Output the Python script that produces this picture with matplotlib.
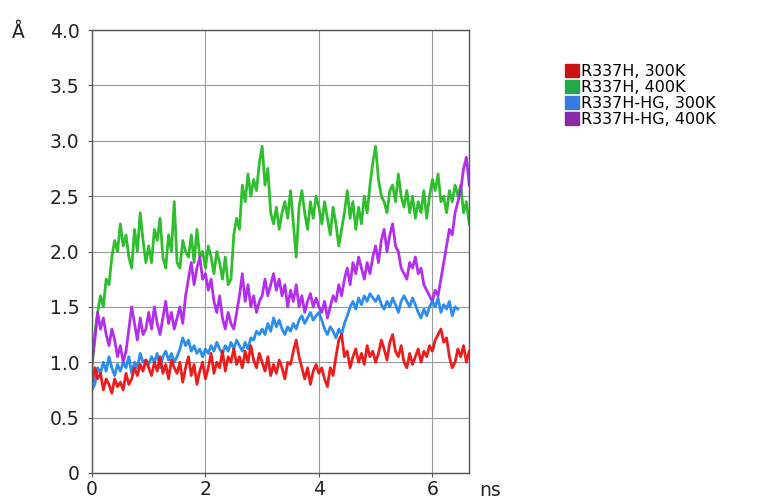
import numpy as np
import matplotlib
matplotlib.use("Agg")
import matplotlib.pyplot as plt
from matplotlib.patches import Patch

# RMSD traces, one value every 0.05 ns
step_ns = 0.05

r337h_300k = [
    0.8, 0.95, 0.85, 0.9, 0.75, 0.85, 0.8, 0.72, 0.85, 0.78,
    0.82, 0.75, 0.9, 0.8, 0.85, 0.95, 0.88, 0.98, 0.92, 1.02,
    0.95, 0.88, 1.0, 0.92, 1.05, 0.9, 0.98, 0.85, 1.02, 0.95,
    0.9, 1.0, 0.82, 0.95, 1.05, 0.88, 0.98, 0.8, 0.92, 1.0,
    0.85, 0.95, 1.08, 0.9, 1.0, 0.95, 1.1, 0.92, 1.05, 1.0,
    1.12, 0.98, 1.05, 0.95, 1.1, 1.0, 1.15, 1.02, 0.95, 1.08,
    1.0, 0.92, 1.05, 0.88, 0.98, 0.9, 1.02, 0.95, 0.85, 1.0,
    0.98, 1.1, 1.2, 1.05, 0.95, 0.85, 0.95, 0.8, 0.92, 0.98,
    0.9, 0.95, 0.85, 0.78, 0.95, 0.88, 1.05, 1.2, 1.25, 1.05,
    1.1, 0.95, 1.05, 1.12, 1.0, 1.08, 0.98, 1.15, 1.05, 1.1,
    1.0, 1.08, 1.2, 1.12, 1.02, 1.18, 1.25, 1.1, 1.05, 1.15,
    1.0, 0.95, 1.08, 0.98, 1.05, 1.12, 1.0, 1.1, 1.05, 1.15,
    1.1, 1.2, 1.25, 1.3, 1.18, 1.22, 1.05, 0.95, 1.0, 1.12,
    1.05, 1.15, 1.0, 1.1,
]

r337h_400k = [
    0.95, 1.25, 1.45, 1.6, 1.5, 1.75, 1.7, 1.95, 2.1, 2.0,
    2.25, 2.05, 2.15, 1.95, 1.85, 2.2, 2.0, 2.35, 2.1, 1.9,
    2.05, 1.9, 2.2, 2.1, 2.3, 1.95, 1.85, 2.15, 2.0, 2.45,
    1.9, 1.85, 2.1, 2.0, 1.95, 2.15, 1.9, 2.2, 1.95, 2.0,
    1.85, 2.05, 1.95, 1.8, 2.0, 1.9, 1.75, 1.95, 1.7, 1.75,
    2.15, 2.3, 2.2, 2.6, 2.45, 2.7, 2.5, 2.65, 2.55, 2.8,
    2.95, 2.6, 2.75, 2.35, 2.25, 2.4, 2.2, 2.35, 2.45, 2.3,
    2.55, 2.25, 1.95, 2.4, 2.55, 2.35, 2.2, 2.45, 2.3, 2.5,
    2.4, 2.25, 2.45, 2.3, 2.15, 2.4, 2.25, 2.05, 2.2, 2.35,
    2.55, 2.3, 2.45, 2.2, 2.4, 2.25, 2.5, 2.35, 2.6, 2.8,
    2.95, 2.65, 2.5, 2.45, 2.35, 2.55, 2.6, 2.45, 2.7, 2.5,
    2.4, 2.55, 2.35, 2.5, 2.3, 2.45, 2.35, 2.55, 2.3, 2.5,
    2.65, 2.55, 2.7, 2.45, 2.5, 2.35, 2.55, 2.45, 2.6, 2.5,
    2.6, 2.35, 2.45, 2.25,
]

r337h_hg_300k = [
    0.75, 0.8, 0.95, 0.9, 1.0, 0.92, 1.05, 0.95, 0.88, 0.98,
    0.92, 1.0, 0.95, 1.05, 0.9, 1.0, 0.95, 1.08, 1.0, 1.02,
    0.98, 1.05, 1.0, 1.08, 0.95, 1.05, 1.1, 1.02, 1.08, 1.0,
    1.05, 1.12, 1.22, 1.15, 1.2, 1.1, 1.15, 1.08, 1.12, 1.05,
    1.12, 1.08, 1.15, 1.1, 1.18, 1.12, 1.08, 1.15, 1.1, 1.18,
    1.12, 1.2, 1.15, 1.1, 1.18, 1.12, 1.22, 1.2, 1.28, 1.25,
    1.3, 1.25, 1.35, 1.28, 1.4, 1.32, 1.38, 1.3, 1.25, 1.32,
    1.28, 1.35, 1.3, 1.38, 1.42, 1.35, 1.4, 1.45, 1.38, 1.42,
    1.45, 1.38, 1.3, 1.25, 1.32, 1.28, 1.22, 1.3, 1.25, 1.35,
    1.42, 1.5, 1.55, 1.48, 1.58, 1.52, 1.6, 1.55, 1.62, 1.58,
    1.55, 1.6, 1.52, 1.48, 1.55, 1.5, 1.58, 1.52, 1.45, 1.55,
    1.6, 1.55, 1.5, 1.58, 1.52, 1.45, 1.4, 1.48, 1.42, 1.5,
    1.55, 1.5, 1.58, 1.45, 1.52, 1.48, 1.55, 1.42, 1.5, 1.48,
]

r337h_hg_400k = [
    1.0, 1.2, 1.45, 1.3, 1.4, 1.25, 1.15, 1.3, 1.2, 1.05,
    1.15, 1.0, 1.1, 1.3, 1.5, 1.35, 1.2, 1.4, 1.25, 1.3,
    1.45, 1.3, 1.5, 1.35, 1.25, 1.4, 1.55, 1.35, 1.45, 1.3,
    1.4, 1.5, 1.35, 1.6, 1.75, 1.9, 1.7, 1.85, 1.95, 1.75,
    1.8, 1.65, 1.75, 1.55, 1.45, 1.6, 1.4, 1.3, 1.45, 1.35,
    1.3, 1.45, 1.6, 1.8, 1.55, 1.7, 1.5, 1.6, 1.45, 1.55,
    1.6, 1.75, 1.6, 1.7, 1.8, 1.65, 1.75, 1.6, 1.7, 1.5,
    1.65, 1.55, 1.7, 1.5, 1.6, 1.45, 1.55, 1.62, 1.5, 1.58,
    1.5, 1.45, 1.55, 1.4, 1.5, 1.6, 1.55, 1.7, 1.6, 1.75,
    1.85, 1.7, 1.9, 1.8, 1.95, 1.85, 1.75, 1.9, 1.8, 1.95,
    2.05, 1.9, 2.1, 2.2, 2.0, 2.15, 2.25, 2.05, 2.0, 1.85,
    1.8, 1.75, 1.9, 1.85, 1.95, 1.8, 1.85, 1.7, 1.65, 1.6,
    1.55, 1.65, 1.6, 1.75, 1.9, 2.05, 2.2, 2.15, 2.35, 2.45,
    2.55, 2.75, 2.85, 2.6,
]

labels = ["R337H, 300K", "R337H, 400K", "R337H-HG, 300K", "R337H-HG, 400K"]
line_colors = ["#ee1111", "#22bb22", "#1f88ee", "#b022ee"]
legend_colors = ["#cc1111", "#22aa4a", "#3a7ae0", "#8a2aa8"]
y_ticks = [0, 0.5, 1.0, 1.5, 2.0, 2.5, 3.0, 3.5, 4.0]
y_tick_labels = ["0", "0.5", "1.0", "1.5", "2.0", "2.5", "3.0", "3.5", "4.0"]
x_ticks = [0, 2, 4, 6]

series = [r337h_300k, r337h_400k, r337h_hg_300k, r337h_hg_400k]

fig = plt.figure(figsize=(7.69, 5.01), dpi=100)
ax = fig.add_axes([0.1196, 0.0559, 0.4906, 0.8842])

# draw order: green at the back, then purple, blue, red
for idx in [1, 3, 2, 0]:
    vals = np.asarray(series[idx])
    t = np.arange(len(vals)) * step_ns
    ax.plot(t, vals, color=line_colors[idx], lw=2.0, alpha=0.95)

ax.set_xlim(0, 6.65)
ax.set_ylim(0, 4.0)
ax.set_yticks(y_ticks)
ax.set_yticklabels(y_tick_labels)
ax.set_xticks(x_ticks)
ax.grid(True, color="#9a9a9a", lw=0.8)
ax.set_axisbelow(True)
for sp in ax.spines.values():
    sp.set_color("#555555")
    sp.set_linewidth(1.0)
ax.tick_params(axis="both", labelsize=13.5, colors="#555555", labelcolor="#222222",
               length=3, pad=6)
ax.tick_params(axis="x", pad=2)

fig.text(490 / 769, 1 - 490 / 501, "ns", fontsize=13.5, color="#222222",
         ha="center", va="center")
fig.text(18 / 769, 1 - 33 / 501, "Å", fontsize=13.5, color="#222222",
         ha="center", va="center")

handles = [Patch(facecolor=c, edgecolor=c) for c in legend_colors]
fig.legend(handles, labels, loc="upper left", bbox_to_anchor=(565 / 769, 1 - 64 / 501),
           frameon=False, fontsize=11.5, handlelength=0.9, handleheight=0.9,
           handletextpad=0.1, labelspacing=0.05, borderpad=0, borderaxespad=0)

fig.savefig("out.png", dpi=100)
